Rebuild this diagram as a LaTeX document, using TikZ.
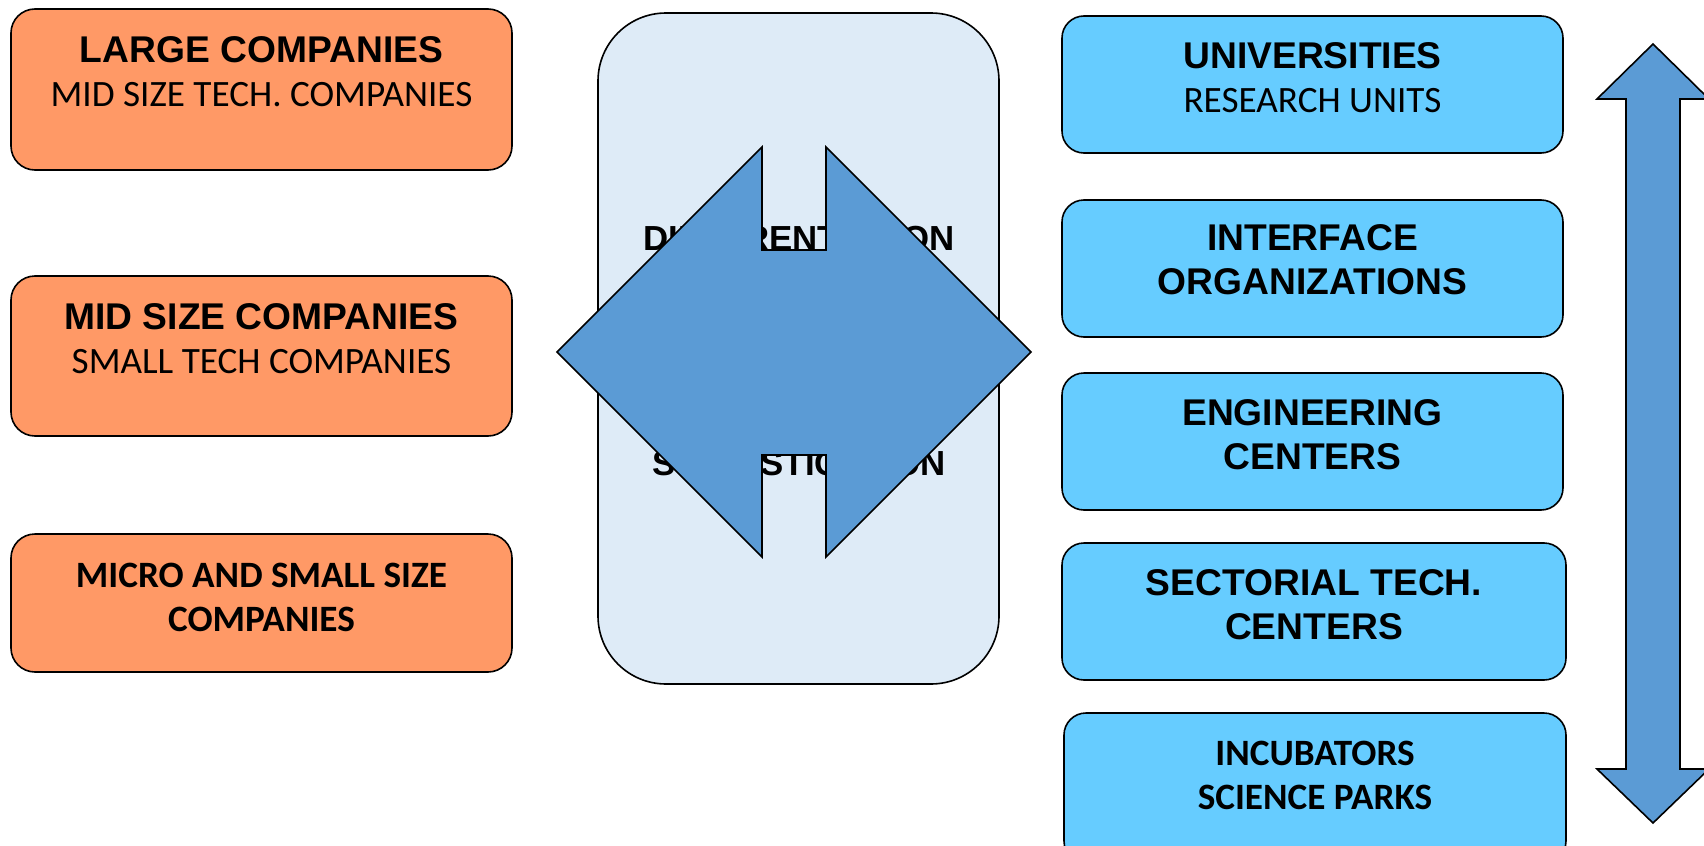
\documentclass[tikz,border=0pt]{standalone}
\usepackage{fontspec}
\setmainfont{Liberation Sans}
\newfontfamily\calib{Carlito}
\usepackage{xcolor}
\usepackage{tikz}
\usetikzlibrary{positioning}
\definecolor{firm_fill}{RGB}{255,153,102}
\definecolor{inst_fill}{RGB}{102,204,255}
\definecolor{core_fill}{RGB}{222,235,247}
\definecolor{arrow_fill}{RGB}{91,155,213}
\tikzset{ firm_box/.style = {rectangle, rounded corners=12pt, draw, fill=firm_fill, line width=0.8pt, minimum width=250.5pt, inner sep=0pt, outer sep=0pt, anchor=north west} }
\tikzset{ inst_box/.style = {rectangle, rounded corners=11pt, draw, fill=inst_fill, line width=0.8pt, minimum width=250.5pt, minimum height=68.5pt, inner sep=0pt, outer sep=0pt, anchor=north west} }
\tikzset{ core_box/.style = {rectangle, rounded corners=34pt, draw, fill=core_fill, line width=0.8pt, minimum width=200.5pt, minimum height=335.5pt, inner sep=0pt, outer sep=0pt, anchor=north west} }
\tikzset{ box_text/.style = {align=center, inner sep=0pt, outer sep=0pt, font=\fontsize{18.6}{22}\selectfont} }
\tikzset{ core_text/.style = {inner sep=0pt, outer sep=0pt, anchor=base, font=\fontsize{17.4}{20}\selectfont\bfseries} }
\tikzset{ block_arrow/.style = {draw, fill=arrow_fill, line width=0.8pt, line join=miter} }

\begin{document}
\begin{tikzpicture}[x=0.5pt, y=-0.5pt]
    \useasboundingbox (0,0) rectangle (1704,846);
    % companies
    \node[firm_box, minimum height=80.5pt] (LC) at (11,9) {};
    \node[firm_box, minimum height=80pt] (MC) at (11,276) {};
    \node[firm_box, minimum height=69pt] (SC) at (11,534) {};
    \node[box_text, below=14pt of LC.north] (LCt) {{\bfseries LARGE COMPANIES}\\{\calib MID SIZE TECH. COMPANIES}};
    \node[box_text, below=14pt of MC.north] (MCt) {{\bfseries MID SIZE COMPANIES}\\{\calib SMALL TECH COMPANIES}};
    \node[box_text, below=14.5pt of SC.north] (SCt) {{\calib\bfseries MICRO AND SMALL SIZE}\\{\calib\bfseries COMPANIES}};
    % core
    \node[core_box] (CB) at (598,13) {};
    \node[core_text] (DF) at (799,250) {DIFFERENTIATION};
    \node[core_text] (SP) at (799,475) {SOPHISTICATION};
    \draw[block_arrow] (557,352) -- (762,147) -- (762,250) -- (826,250) -- (826,147) -- (1031,352)
        -- (826,557) -- (826,455) -- (762,455) -- (762,557) -- cycle;
    % institutions
    \node[inst_box] (UN) at (1062,16) {};
    \node[inst_box] (IO) at (1062,200) {};
    \node[inst_box] (EC) at (1062,373) {};
    \node[inst_box, minimum width=252pt] (ST) at (1062,543) {};
    \node[inst_box, minimum width=251pt, minimum height=75pt] (IB) at (1064,713) {};
    \node[box_text, below=13.5pt of UN.north] (UNt) {{\bfseries UNIVERSITIES}\\{\calib RESEARCH UNITS}};
    \node[box_text, below=12.5pt of IO.north] (IOt) {\bfseries INTERFACE\\ \bfseries ORGANIZATIONS};
    \node[box_text, below=13.5pt of EC.north] (ECt) {\bfseries ENGINEERING\\ \bfseries CENTERS};
    \node[box_text, below=13.5pt of ST.north] (STt) {\bfseries SECTORIAL TECH.\\ \bfseries CENTERS};
    \node[box_text, below=14pt of IB.north] (IBt) {{\calib\bfseries INCUBATORS}\\{\calib\bfseries SCIENCE PARKS}};
    \draw[block_arrow] (1653,44) -- (1709,99) -- (1680,99) -- (1680,769) -- (1709,769) -- (1653,823)
        -- (1597,769) -- (1626,769) -- (1626,99) -- (1597,99) -- cycle;
\end{tikzpicture}
\end{document}
